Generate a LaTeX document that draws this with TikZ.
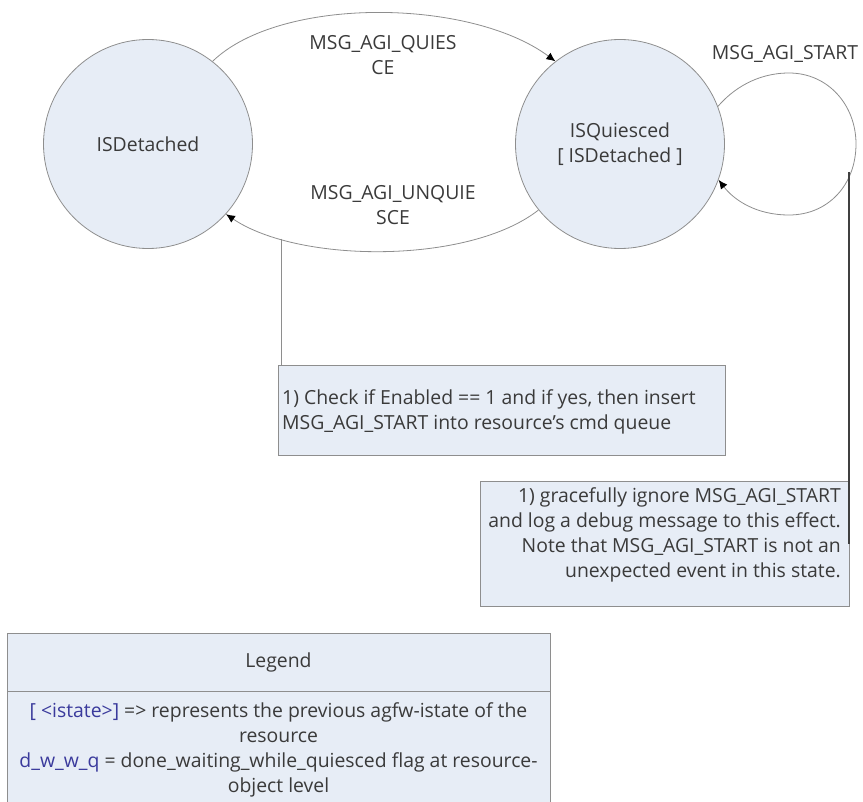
\documentclass[tikz,border=0pt]{standalone}
\usepackage{fontspec}
\setmainfont{Open Sans}
\usetikzlibrary{arrows.meta}
\definecolor{fillc}{HTML}{E7EDF6}
\definecolor{edge}{HTML}{8E8E8E}
\definecolor{txt}{HTML}{3A3A3A}
\definecolor{navy}{HTML}{3A3A9C}
\begin{document}
\begin{tikzpicture}[x=1pt,y=-1pt,
  every node/.style={font=\fontsize{19.4}{25}\selectfont, text=txt},
  state/.style={circle, draw=edge, fill=fillc, minimum size=209pt, inner sep=0pt, line width=0.8pt},
  note/.style={draw=edge, fill=fillc, line width=0.9pt, inner sep=0pt},
  trans/.style={draw=edge, line width=0.8pt, -{Latex[length=9pt,width=8pt,black]}},
  lbl/.style={align=center, inner sep=0pt},
  link/.style={draw=edge, line width=0.9pt},
  darklink/.style={draw=black!75, line width=1.2pt},
]
\useasboundingbox (0,0) rectangle (863,802);

% states
\node[state] (d) at (148,144) {ISDetached};
\node[state, align=center] (q) at (620,144) {ISQuiesced\\\relax[ ISDetached ]};

% transitions
\draw[trans] (d.52) .. controls (280,-4) and (470,-2) .. (q.128);
\draw[trans] (q.219) .. controls (470,264) and (300,264) .. coordinate[pos=0.795] (ub) (d.318);
\draw[trans] (q.21) .. controls (732,90) and (756,73) .. (789,73)
  .. controls (828,73) and (856,105) .. (856,144)
  .. controls (856,185) and (828,215) .. (789,215)
  .. controls (756,215) and (734,200) .. (q.-20);

% labels
\node[lbl] (l1) at (383,55) {MSG\_AGI\_QUIES\\CE};
\node[lbl] (l2) at (393,205) {MSG\_AGI\_UNQUIE\\SCE};
\node[lbl] (l3) at (785,54) {MSG\_AGI\_START};

% note boxes
\node[note, minimum width=447pt, minimum height=90pt, anchor=north west] (b1) at (278,365) {};
\node[anchor=base west, align=left, inner sep=0pt] (t1) at (282,430) {1) Check if Enabled == 1 and if yes, then insert\\MSG\_AGI\_START into resource’s cmd queue};
\draw[link] (ub) -- (ub |- b1.north);

\node[note, minimum width=369pt, minimum height=125pt, anchor=north west] (b2) at (480,481) {};
\node[anchor=north east, align=right, inner sep=0pt] (t2) at (841,487) {1) gracefully ignore MSG\_AGI\_START\\and log a debug message to this effect.\\Note that MSG\_AGI\_START is not an\\unexpected event in this state.};
\coordinate (lp) at (849,172);
\draw[darklink] (lp) -- (lp |- b2.east);

% legend
\node[note, minimum width=543pt, minimum height=180pt, anchor=north west] (lg) at (7,633) {};
\draw[link] (7,691) -- (550,691);
\node[inner sep=0pt] (lgt) at (278.5,662) {Legend};
\node[anchor=north, align=center, inner sep=0pt] (lgb) at (278.5,702) {\textcolor{navy}{[ <istate>]} => represents the previous agfw-istate of the\\resource\\\textcolor{navy}{d\_w\_w\_q} = done\_waiting\_while\_quiesced flag at resource-\\object level};
\end{tikzpicture}
\end{document}
